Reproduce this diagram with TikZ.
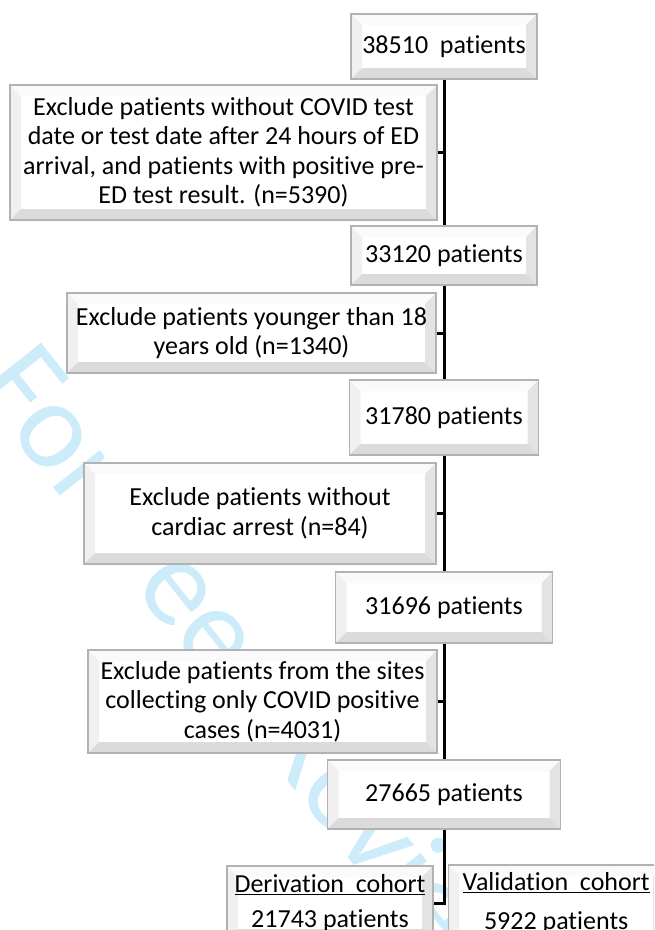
\documentclass[tikz,border=0pt]{standalone}
\usepackage{fontspec}
\setmainfont{Carlito}[Ligatures=NoCommon]
\usetikzlibrary{positioning}
\definecolor{wmark}{RGB}{204,236,250}
\tikzset{
    %Define style for the bevelled boxes
    bevel/.style={
           rectangle,
           draw=gray!60,
           line width=1.2pt,
           fill=white,
           inner sep=0pt,
           align=center,
           font=\fontsize{26}{29.5}\selectfont,
           path picture={
             \path (path picture bounding box.south west) coordinate (sw)
                   (path picture bounding box.south east) coordinate (se)
                   (path picture bounding box.north east) coordinate (ne)
                   (path picture bounding box.north west) coordinate (nw);
             \fill[gray!4] (nw) -- (ne) -- ([shift={(-11pt,-11pt)}]ne) -- ([shift={(11pt,-11pt)}]nw) -- cycle;
             \fill[gray!12] (nw) -- (sw) -- ([shift={(11pt,11pt)}]sw) -- ([shift={(11pt,-11pt)}]nw) -- cycle;
             \fill[gray!22] (ne) -- (se) -- ([shift={(-11pt,11pt)}]se) -- ([shift={(-11pt,-11pt)}]ne) -- cycle;
             \fill[gray!28] (sw) -- (se) -- ([shift={(-11pt,11pt)}]se) -- ([shift={(11pt,11pt)}]sw) -- cycle;
           }},
    % Define line style
    trunk/.style={
           line width=3pt,
           black}
}
\begin{document}
\begin{tikzpicture}[x=1pt,y=-1pt]
  \useasboundingbox (0,0) rectangle (654,930);
  \clip (0,0) rectangle (654,930);
  % watermark behind the chart
  \node[anchor=base west, rotate=-51.5, text=wmark, inner sep=0pt,
        font=\fontsize{125}{125}\selectfont] (watermark) at (-27,386) {For Peer Review};

  \node[bevel, minimum width=186pt, minimum height=65pt] (all) at (444,46.5) {38510\ \ patients};
  \node[bevel, minimum width=427pt, minimum height=135pt] (nodate) at (223.5,152.5)
    {Exclude patients without COVID test\\date or test date after 24 hours of ED\\arrival, and patients with positive pre-\\ED test result. (n=5390)};
  \node[bevel, minimum width=186pt, minimum height=59pt] (tested) at (444,255.5) {33120 patients};
  \node[bevel, minimum width=369pt, minimum height=80pt] (minors) at (251.5,333)
    {Exclude patients younger than 18\\years old (n=1340)};
  \node[bevel, minimum width=189pt, minimum height=75pt] (adults) at (444,417.5) {31780 patients};
  \node[bevel, minimum width=352pt, minimum height=101pt] (noarrest) at (260,513.5)
    {Exclude patients without\\cardiac arrest (n=84)};
  \node[bevel, minimum width=217pt, minimum height=71pt] (arrest) at (444,607.5) {31696 patients};
  \node[bevel, minimum width=349pt, minimum height=103pt] (possites) at (262.5,701.5)
    {Exclude patients from the sites\\collecting only COVID positive\\cases (n=4031)};
  \node[bevel, minimum width=233pt, minimum height=69pt] (final) at (444,794.5) {27665 patients};
  \node[bevel, minimum width=206pt, minimum height=74pt] (derive) at (330,903)
    {\underline{Derivation\ \ cohort}\\[6pt]21743 patients};
  \node[bevel, minimum width=216pt, minimum height=76pt, right=14pt of derive] (valid)
    {\underline{Validation\ \ cohort}\\[10pt]5922 patients};

  % main trunk
  \draw[trunk] (all) -- (tested);
  \draw[trunk] (tested) -- (adults);
  \draw[trunk] (adults) -- (arrest);
  \draw[trunk] (arrest) -- (final);
  \draw[trunk] (final) |- (derive);
  % exclusion ticks
  \draw[trunk] (nodate.east) -- (nodate.east -| all.south);
  \draw[trunk] (minors.east) -- (minors.east -| all.south);
  \draw[trunk] (noarrest.east) -- (noarrest.east -| all.south);
  \draw[trunk] (possites.east) -- (possites.east -| all.south);
\end{tikzpicture}
\end{document}
